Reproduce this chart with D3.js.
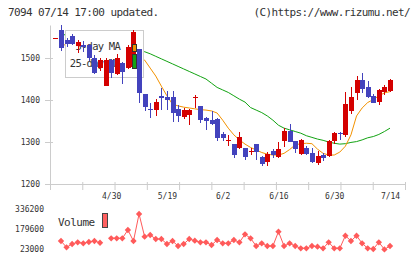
<!DOCTYPE html>
<html>
<head>
<meta charset="utf-8">
<script src="https://cdn.jsdelivr.net/npm/d3@7"></script>
<style>
  body { margin: 0; background: #fff; }
  svg { display: block; }
  text { font-family: "DejaVu Sans Mono", monospace; fill: #333; }
</style>
</head>
<body>
<svg id="chart" width="420" height="259"></svg>
<script>
// daily candles, index 0..60
var open  = [1547,1567,1543,1553,1529,1531,1531,1499,1476,1434,1495,1462,1487,1476,1478,1521,1414,1379,1376,1410,1406,1408,1378,1360,1364,1404,1386,1357,1352,1355,1318,1303,1295,1285,1285,1276,1295,1265,1252,1279,1265,1303,1326,1302,1271,1285,1273,1249,1269,1267,1303,1322,1317,1375,1417,1448,1430,1410,1396,1420,1422];
var high  = [1548,1579,1547,1556,1543,1540,1533,1507,1499,1500,1497,1509,1490,1530,1566,1522,1415,1392,1402,1428,1421,1421,1388,1380,1378,1411,1386,1359,1374,1357,1323,1316,1296,1323,1286,1285,1296,1267,1277,1284,1300,1333,1342,1303,1307,1290,1286,1279,1275,1305,1324,1324,1418,1431,1457,1465,1445,1414,1426,1436,1450];
var low   = [1546,1517,1527,1530,1511,1515,1492,1462,1470,1434,1452,1460,1437,1474,1476,1394,1374,1357,1363,1376,1377,1348,1348,1355,1340,1380,1346,1329,1340,1303,1302,1290,1261,1283,1257,1269,1257,1242,1244,1262,1262,1289,1299,1273,1269,1268,1250,1245,1255,1265,1296,1305,1312,1366,1401,1417,1405,1392,1389,1412,1420];
var close = [1547,1525,1533,1533,1539,1527,1499,1465,1495,1495,1465,1499,1467,1527,1563,1416,1384,1377,1395,1404,1401,1368,1363,1376,1376,1406,1353,1351,1343,1310,1309,1304,1269,1311,1265,1278,1276,1247,1271,1269,1283,1326,1301,1283,1305,1271,1252,1267,1261,1303,1322,1319,1390,1408,1448,1426,1408,1394,1424,1430,1448];
var volume = [null,85600,36300,62000,75500,67600,77800,85600,72000,null,106800,106800,106800,171800,85600,297000,119300,132600,101300,101300,62000,85600,46500,62000,101300,88200,75500,75500,54300,93500,67600,67600,93500,75500,138000,106800,46500,67600,46500,46500,158500,46500,67600,46500,28500,28500,46500,41300,28500,75500,28500,28500,127000,85600,127000,67600,28500,23000,75500,20000,46500];
var ma5  = [null,1530,1532,1533,1533,1531,1520,1512,1505,1498,1490,1486,1485,1490,1500,1502,1495,1476,1457,1433,1410,1390,1386,1383,1381,1379,1377,1376,1374,1369,1352,1333,1317,1305,1295,1287,1281,1275,1271,1269,1269,1273,1282,1293,1296,1297,1296,1283,1273,1269,1269,1276,1290,1317,1362,1381,1394,1401,1410,1417,1420];
var ma25 = [null,1556,1555,1552,1550,1548,1545,1543,1540,1538,1536,1533,1530,1526,1523,1519,1515,1510,1504,1498,1492,1486,1480,1474,1468,1462,1456,1450,1440,1430,1424,1418,1410,1402,1395,1382,1376,1370,1362,1352,1340,1333,1329,1325,1321,1315,1311,1307,1304,1300,1297,1295,1296,1299,1301,1305,1310,1313,1318,1325,1333];

var xLabels = ["4/30", "5/19", "6/2", "6/16", "6/30", "7/14"];
var xLabelIdx = [10, 20, 30, 40, 50, 60];
var priceTicks = [1200, 1300, 1400, 1500];
var volumeTicks = [23000, 179600, 336200];

var UP = "#d40000", DOWN = "#4343bd", GRID = "#cccccc";
var idx = d3.range(open.length);

var svg = d3.select("#chart");

var x = d3.scaleLinear().domain([0, 60]).range([55.4, 390]);
var xFrame = d3.scaleLinear().domain([0, 11]).range([50, 405]);
var y = d3.scaleLinear().domain([1200, 1578.6]).range([184, 25]);
var yv = d3.scaleLinear().domain([23000, 336200]).range([249, 209]);

// header
svg.append("text").attr("x", 8).attr("y", 16).attr("font-size", 11)
    .attr("letter-spacing", -0.6).text("7094 07/14 17:00 updated.");
svg.append("text").attr("x", 410).attr("y", 16).attr("font-size", 11)
    .attr("letter-spacing", -0.6).attr("text-anchor", "end")
    .text("(C)https://www.rizumu.net/");

// axes
var yAxis = svg.append("g").attr("transform", "translate(50,0)")
    .call(d3.axisLeft(y).tickValues(priceTicks).tickFormat(d3.format("d"))
        .tickSizeInner(5).tickSizeOuter(0).tickPadding(5));
yAxis.selectAll("line").attr("x1", 3);
yAxis.selectAll("text").attr("font-size", 8).attr("font-family", "DejaVu Sans Mono").attr("fill", "#333");

var xAxis = svg.append("g").attr("transform", "translate(0,184)")
    .call(d3.axisBottom(xFrame).tickValues(d3.range(12)).tickFormat("").tickSizeInner(6).tickSizeOuter(0));
xAxis.selectAll("line").attr("y1", -2);

svg.selectAll(".domain, .tick line").attr("stroke", GRID);

var xLab = svg.append("g").attr("transform", "translate(0,193)")
    .call(d3.axisBottom(x).tickValues(xLabelIdx)
        .tickFormat(function(d, i) { return xLabels[i]; }).tickSize(0).tickPadding(0));
xLab.select(".domain").remove();
xLab.selectAll("text").attr("font-size", 8).attr("font-family", "DejaVu Sans Mono")
    .attr("fill", "#333").attr("dy", "0.75em");

// moving averages
var maLine = function(arr) {
    return d3.line().defined(function(i) { return arr[i] != null; })
        .x(function(i) { return x(i); }).y(function(i) { return y(arr[i]); })(idx);
};
svg.append("path").attr("d", maLine(ma25)).attr("fill", "none")
    .attr("stroke", "#12a312").attr("stroke-width", 1);
svg.append("path").attr("d", maLine(ma5)).attr("fill", "none")
    .attr("stroke", "#f39200").attr("stroke-width", 1);

// legend box (sits over the lines, under the candles)
var leg = svg.append("g");
leg.append("rect").attr("x", 65.5).attr("y", 30.5).attr("width", 78).attr("height", 47)
    .attr("fill", "#fff").attr("stroke", GRID);
leg.append("text").attr("x", 120).attr("y", 50).attr("font-size", 10.5)
    .attr("letter-spacing", -0.75).attr("text-anchor", "end").text("5-day MA");
leg.append("text").attr("x", 120).attr("y", 66.7).attr("font-size", 10.5)
    .attr("letter-spacing", -0.75).attr("text-anchor", "end").text("25-day MA");

// candles
var candles = svg.append("g").attr("shape-rendering", "crispEdges");
candles.selectAll("line").data(idx).enter().append("line")
    .attr("x1", function(i) { return Math.round(x(i)) + 0.5; })
    .attr("x2", function(i) { return Math.round(x(i)) + 0.5; })
    .attr("y1", function(i) { return y(high[i]); })
    .attr("y2", function(i) { return y(low[i]); })
    .attr("stroke", function(i) { return close[i] >= open[i] ? UP : DOWN; });
candles.selectAll("rect").data(idx).enter().append("rect")
    .attr("x", function(i) { return Math.round(x(i)) - 2; })
    .attr("width", 5)
    .attr("y", function(i) { return y(Math.max(open[i], close[i])); })
    .attr("height", function(i) { return Math.max(1, Math.abs(y(open[i]) - y(close[i]))); })
    .attr("fill", function(i) { return close[i] >= open[i] ? UP : DOWN; });

// legend swatches on top of the candles
var sw = svg.append("g");
sw.append("rect").attr("x", 132.5).attr("y", 44.5).attr("width", 4).attr("height", 7)
    .attr("fill", "#f39200").attr("stroke", "#333");
sw.append("rect").attr("x", 132.5).attr("y", 54.5).attr("width", 4).attr("height", 14)
    .attr("fill", "#12a312").attr("stroke", "#333");

// volume panel
var VOL = "#ff5a5a";
svg.append("g").selectAll("text").data(volumeTicks).enter().append("text")
    .attr("x", 44).attr("y", function(d) { return yv(d); })
    .attr("dy", "0.35em").attr("text-anchor", "end").attr("font-size", 8)
    .text(function(d) { return d; });

svg.append("text").attr("x", 58).attr("y", 226).attr("font-size", 11)
    .attr("letter-spacing", -0.5).text("Volume");
svg.append("rect").attr("x", 102.5).attr("y", 213.5).attr("width", 5).attr("height", 14)
    .attr("fill", "#ff6060").attr("stroke", "#444");

var volLine = d3.line().defined(function(i) { return volume[i] != null; })
    .x(function(i) { return x(i); }).y(function(i) { return yv(volume[i]); });
svg.append("path").attr("d", volLine(idx)).attr("fill", "none")
    .attr("stroke", VOL).attr("stroke-width", 1);
svg.append("g").selectAll("path")
    .data(idx.filter(function(i) { return volume[i] != null; }))
    .enter().append("path")
    .attr("d", d3.symbol(d3.symbolSquare, 20))
    .attr("transform", function(i) { return "translate(" + x(i) + "," + yv(volume[i]) + ") rotate(45)"; })
    .attr("fill", VOL);
</script>
</body>
</html>
